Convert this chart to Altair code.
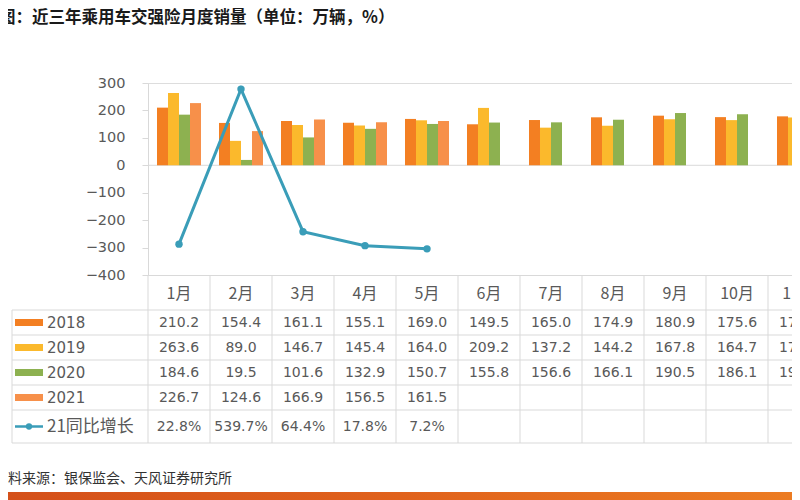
import altair as alt
import pandas as pd

# ---------------- data ----------------
months = ["1月", "2月", "3月", "4月", "5月", "6月", "7月", "8月", "9月", "10月", "11月"]
series = ["2018", "2019", "2020", "2021"]
v2018 = [210.2, 154.4, 161.1, 155.1, 169.0, 149.5, 165.0, 174.9, 180.9, 175.6, 178.4]
v2019 = [263.6, 89.0, 146.7, 145.4, 164.0, 209.2, 137.2, 144.2, 167.8, 164.7, 174.3]
v2020 = [184.6, 19.5, 101.6, 132.9, 150.7, 155.8, 156.6, 166.1, 190.5, 186.1, 193.5]
v2021 = [226.7, 124.6, 166.9, 156.5, 161.5]
growth = [22.8, 539.7, 64.4, 17.8, 7.2]
growth_name = "21同比增长"
rows = series + [growth_name]
y_ticks = [-400, -300, -200, -100, 0, 100, 200, 300]
colors = ["#F37F22", "#FBB92C", "#8DB150", "#F7904A"]
line_color = "#3A9DB8"

title_text = "图：近三年乘用车交强险月度销量（单位：万辆，%）"
source_text = "资料来源：银保监会、天风证券研究所"

# ---------------- tables ----------------
bar_records = []
for s, vals in zip(series, [v2018, v2019, v2020, v2021]):
    for m, v in zip(months, vals):
        bar_records.append({"month": m, "series": s, "value": v})
bar_df = pd.DataFrame(bar_records)

growth_df = pd.DataFrame({"month": months[:len(growth)], "pct": growth})

cell_records = []
for s, vals in zip(series, [v2018, v2019, v2020, v2021]):
    for m, v in zip(months, vals):
        cell_records.append({"month": m, "row": s, "label": f"{v:.1f}"})
cell_df = pd.DataFrame(cell_records)
gcell_df = pd.DataFrame({"month": months[:len(growth)], "row": growth_name,
                         "label": [f"{g:.1f}%" for g in growth]})

rows_df = pd.DataFrame({"row": rows})
legend_df = pd.DataFrame({"row": series, "series": series})
month_df = pd.DataFrame({"month": months})
one = pd.DataFrame({"k": [0]})

W, H = 644, 192
GRID = "#D9D9D9"
TXT = "#595959"
NUMFONT = "DejaVu Sans"
CJK = "Noto Sans CJK SC"

x_scale = alt.Scale(domain=months, range=[0, 682], paddingInner=0, paddingOuter=0)
y_scale = alt.Scale(domain=[-400, 300], nice=False, zero=False)
y_axis = alt.Axis(values=y_ticks, tickCount=len(y_ticks), grid=False, labelOverlap=False,
                  labelFont=NUMFONT, labelFontSize=14.5, labelColor=TXT,
                  domainColor=GRID, tickColor=GRID, tickSize=6, labelPadding=17, title=None)
row_scale = alt.Scale(domain=rows, range=[227, 352], paddingInner=0, paddingOuter=0)
color_scale = alt.Scale(domain=series, range=colors)

# ---------------- bars + zero line ----------------
bars = alt.Chart(bar_df).mark_bar().encode(
    x=alt.X("month:N", sort=months, scale=x_scale, title=None,
            axis=alt.Axis(labelFont=CJK, labelFontSize=16, labelColor=TXT, labelAngle=0,
                          labelPadding=10, ticks=False, domainColor=GRID, domainWidth=1)),
    xOffset=alt.XOffset("series:N", scale=alt.Scale(domain=series, paddingInner=0, paddingOuter=0.818)),
    y=alt.Y("value:Q", scale=y_scale, axis=y_axis),
    color=alt.Color("series:N", scale=color_scale, legend=None),
)
zero = alt.Chart(one).mark_rule(color=GRID, strokeWidth=1).encode(
    y=alt.Y("k:Q", scale=y_scale, axis=y_axis)
)
bar_layer = alt.layer(zero, bars)

# ---------------- growth line (secondary hidden axis) ----------------
line = alt.Chart(growth_df).mark_line(
    color=line_color, strokeWidth=3,
    point=alt.OverlayMarkDef(filled=True, size=55, color=line_color),
).encode(
    x=alt.X("month:N", sort=months),
    y=alt.Y("pct:Q", scale=alt.Scale(domain=[-80, 560], nice=False, zero=False), axis=None),
)

# ---------------- data table ----------------
hlines = alt.Chart(rows_df).mark_rule(color=GRID, strokeWidth=1).encode(
    x=alt.value(-136), x2=alt.value(682),
    y=alt.Y("row:N", scale=row_scale, axis=None, bandPosition=0),
)
cells = alt.Chart(cell_df).mark_text(font=NUMFONT, fontSize=14, color=TXT).encode(
    x=alt.X("month:N", sort=months),
    y=alt.Y("row:N", scale=row_scale, axis=None),
    text="label:N",
)
gcells = alt.Chart(gcell_df).mark_text(font=NUMFONT, fontSize=14, color=TXT, dy=4).encode(
    x=alt.X("month:N", sort=months),
    y=alt.Y("row:N", scale=row_scale, axis=None),
    text="label:N",
)
swatches = alt.Chart(legend_df).mark_rule(strokeWidth=7).encode(
    x=alt.value(-133), x2=alt.value(-105),
    y=alt.Y("row:N", scale=row_scale, axis=None),
    color=alt.Color("series:N", scale=color_scale, legend=None),
)
year_labels = alt.Chart(legend_df).mark_text(font=NUMFONT, fontSize=15, color=TXT, align="left").encode(
    x=alt.value(-101),
    y=alt.Y("row:N", scale=row_scale, axis=None),
    text="row:N",
)
g_df = pd.DataFrame({"row": [growth_name]})
g_line = alt.Chart(g_df).mark_rule(strokeWidth=2.5, color=line_color, yOffset=4).encode(
    x=alt.value(-133), x2=alt.value(-105),
    y=alt.Y("row:N", scale=row_scale, axis=None),
)
g_dot = alt.Chart(g_df).mark_point(filled=True, size=40, color=line_color, opacity=1, yOffset=4).encode(
    x=alt.value(-119),
    y=alt.Y("row:N", scale=row_scale, axis=None),
)
g_label = alt.Chart(g_df).mark_text(font=CJK, fontSize=17, color=TXT, align="left", dy=4).encode(
    x=alt.value(-101),
    y=alt.Y("row:N", scale=row_scale, axis=None),
    text="row:N",
)
table = alt.layer(hlines, cells, gcells, swatches, year_labels, g_line, g_dot, g_label)

vlines = alt.Chart(month_df).mark_rule(color=GRID, strokeWidth=1).encode(
    x=alt.X("month:N", sort=months, bandPosition=0),
    y=alt.value(192), y2=alt.value(360),
)
left_border = alt.Chart(one).mark_rule(color=GRID, strokeWidth=1).encode(
    x=alt.value(-136), y=alt.value(227), y2=alt.value(360),
)
bottom_border = alt.Chart(one).mark_rule(color=GRID, strokeWidth=1).encode(
    x=alt.value(-136), x2=alt.value(682), y=alt.value(360),
)

# ---------------- footer ----------------
source = alt.Chart(one).mark_text(font=CJK, fontSize=14, color="#333333", align="left",
                                   baseline="middle").encode(
    x=alt.value(-154), y=alt.value(396), text=alt.value(source_text),
)
banner = alt.Chart(one).mark_rect(
    color=alt.LinearGradient(gradient="linear", x1=0, x2=1, y1=0, y2=0,
                             stops=[alt.GradientStop(color="#D4501A", offset=0),
                                    alt.GradientStop(color="#E0621C", offset=0.5),
                                    alt.GradientStop(color="#EC7C22", offset=1)])
).encode(x=alt.value(-140), x2=alt.value(W), y=alt.value(409), y2=alt.value(420))

chart = alt.layer(
    bar_layer, line, table, vlines, left_border, bottom_border, source, banner
).resolve_scale(y="independent").properties(
    width=W, height=H,
    title=alt.TitleParams(title_text, anchor="start", frame="group", dx=-149, offset=49,
                          font=CJK, fontSize=16.5, fontWeight="bold", color="#1A1A1A"),
    padding={"left": 140, "top": 75, "right": 0, "bottom": 225},
    autosize=alt.AutoSizeParams(type="none"),
).configure_view(stroke=None).configure(background="white")

chart.save("out.html", embed_options={"renderer": "svg", "actions": False})
